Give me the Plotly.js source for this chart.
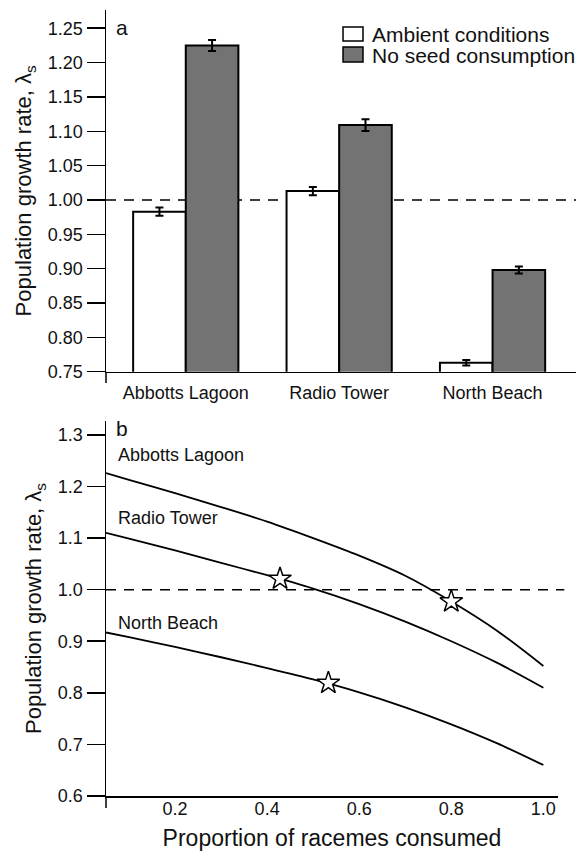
<!DOCTYPE html>
<html>
<head>
<meta charset="utf-8">
<script src="https://cdn.plot.ly/plotly-3.0.1.min.js"></script>
<style>html,body{margin:0;padding:0;background:#fff;}#chart{width:576px;height:851px;}</style>
</head>
<body>
<div id="chart"></div>
<script>
// ---- Panel a data ----
const sites = ['Abbotts Lagoon', 'Radio Tower', 'North Beach'];
const seriesNames = ['Ambient conditions', 'No seed consumption'];
const ambient = [0.983, 1.013, 0.763];
const ambientErr = [0.006, 0.006, 0.004];
const noSeed = [1.225, 1.109, 0.898];
const noSeedErr = [0.008, 0.0085, 0.005];

// ---- Panel b data ----
const consumed = [0.05, 0.1, 0.2, 0.3, 0.4, 0.5, 0.6, 0.7, 0.8, 0.9, 1.0];
const abbottsCurve = [1.226, 1.213, 1.187, 1.160, 1.132, 1.100, 1.066, 1.027, 0.977, 0.920, 0.852];
const radioCurve = [1.110, 1.099, 1.076, 1.052, 1.028, 1.002, 0.972, 0.938, 0.900, 0.858, 0.810];
const northCurve = [0.917, 0.908, 0.889, 0.869, 0.848, 0.826, 0.801, 0.772, 0.739, 0.702, 0.660];
const starX = [0.80, 0.428, 0.533];
const starY = [0.977, 1.021, 0.819];
const curveLabels = ['Abbotts Lagoon', 'Radio Tower', 'North Beach'];
const labelY = [1.261, 1.139, 0.935];
const threshold = 1.0;

const FONT = 'Liberation Sans, Arial, Helvetica, sans-serif';
const colors = ['#ffffff', '#737373'];

const traces = [
  {type: 'bar', name: seriesNames[0], x: sites, y: ambient, showlegend: false,
   error_y: {type: 'data', array: ambientErr, visible: true, color: '#000', thickness: 2, width: 4},
   marker: {color: colors[0], line: {color: '#000', width: 2}}, xaxis: 'x', yaxis: 'y'},
  {type: 'bar', name: seriesNames[1], x: sites, y: noSeed, showlegend: false,
   error_y: {type: 'data', array: noSeedErr, visible: true, color: '#000', thickness: 2, width: 4},
   marker: {color: colors[1], line: {color: '#000', width: 2}}, xaxis: 'x', yaxis: 'y'},
  {type: 'scatter', mode: 'lines', x: consumed, y: abbottsCurve, showlegend: false,
   line: {color: '#000', width: 1.8, shape: 'spline', smoothing: 0.8}, xaxis: 'x2', yaxis: 'y2'},
  {type: 'scatter', mode: 'lines', x: consumed, y: radioCurve, showlegend: false,
   line: {color: '#000', width: 1.8, shape: 'spline', smoothing: 0.8}, xaxis: 'x2', yaxis: 'y2'},
  {type: 'scatter', mode: 'lines', x: consumed, y: northCurve, showlegend: false,
   line: {color: '#000', width: 1.8, shape: 'spline', smoothing: 0.8}, xaxis: 'x2', yaxis: 'y2'},
  {type: 'scatter', mode: 'markers', x: starX, y: starY, showlegend: false,
   marker: {symbol: 'star', size: 17, color: '#ffffff', line: {color: '#000', width: 1.5}},
   xaxis: 'x2', yaxis: 'y2'}
];

const axisCommon = {showline: true, linecolor: '#000', linewidth: 1.5, showgrid: false, zeroline: false,
  tickfont: {family: FONT, size: 18, color: '#111'}, mirror: false};

// legend swatches (paper coords of the plot area)
const legendSwatches = [
  {x0: 0.5043, x1: 0.5468, y0: 0.9606, y1: 0.9784},
  {x0: 0.5043, x1: 0.5468, y0: 0.9338, y1: 0.9529}
];
const legendTextY = [0.9686, 0.9427];

const layout = {
  width: 576, height: 851,
  margin: {l: 106, r: 0, t: 10, b: 55},
  paper_bgcolor: '#fff', plot_bgcolor: 'rgba(0,0,0,0)',
  font: {family: FONT, color: '#111'},
  barmode: 'group', bargap: 0.314, bargroupgap: 0,
  showlegend: false,
  xaxis: Object.assign({}, axisCommon, {domain: [0, 1], anchor: 'y', type: 'category',
    range: [-0.52, 2.544], ticks: '', ticklabelstandoff: 4}),
  yaxis: Object.assign({}, axisCommon, {domain: [0.5398, 1], anchor: 'x', range: [0.75, 1.2765],
    tick0: 0.75, dtick: 0.05, tickformat: '.2f', ticks: 'outside', ticklen: 18, tickwidth: 1.5, tickcolor: '#000',
    title: {text: 'Population growth rate, λ<sub>s</sub>', font: {family: FONT, size: 22, color: '#111'}, standoff: 10}}),
  xaxis2: Object.assign({}, axisCommon, {domain: [0, 0.9617], anchor: 'y2', range: [0.05, 1.0318],
    tickvals: [0.2, 0.4, 0.6, 0.8, 1.0], tickformat: '.1f', ticks: '', ticklabelstandoff: -4,
    title: {text: 'Proportion of racemes consumed', font: {family: FONT, size: 23, color: '#111'}, standoff: 18}}),
  yaxis2: Object.assign({}, axisCommon, {domain: [0, 0.4771], anchor: 'x2', range: [0.6, 1.327],
    tick0: 0.6, dtick: 0.1, tickformat: '.1f', ticks: 'outside', ticklen: 18, tickwidth: 1.5, tickcolor: '#000',
    title: {text: 'Population growth rate, λ<sub>s</sub>', font: {family: FONT, size: 22, color: '#111'}, standoff: 10}}),
  shapes: [
    {type: 'line', xref: 'x domain', yref: 'y', x0: 0, x1: 1, y0: threshold, y1: threshold, layer: 'below',
     line: {color: '#000', width: 1.5, dash: '10px,8px'}},
    {type: 'line', xref: 'paper', yref: 'y2', x0: 0, x1: 0.975, y0: threshold, y1: threshold, layer: 'below',
     line: {color: '#000', width: 1.5, dash: '10px,8px'}},
    {type: 'line', xref: 'paper', yref: 'paper', x0: 0, x1: 0, y0: 0.5398, y1: 0.5255,
     line: {color: '#000', width: 1.5}},
    {type: 'line', xref: 'paper', yref: 'paper', x0: 0, x1: 0, y0: 0, y1: -0.0153,
     line: {color: '#000', width: 1.5}}
  ].concat(legendSwatches.map((s, i) => Object.assign({type: 'rect', xref: 'paper', yref: 'paper',
     fillcolor: colors[i], line: {color: '#000', width: 1.5}}, s))),
  annotations: [
    {text: 'a', xref: 'x domain', yref: 'y domain', x: 0.018, y: 0.953, xanchor: 'left', yanchor: 'middle',
     showarrow: false, font: {family: FONT, size: 21, color: '#111'}},
    {text: 'b', xref: 'x2 domain', yref: 'y2 domain', x: 0.018, y: 0.979, xanchor: 'left', yanchor: 'middle',
     showarrow: false, font: {family: FONT, size: 21, color: '#111'}}
  ].concat(curveLabels.map((t, i) => ({text: t, xref: 'x2', yref: 'y2', x: 0.072, y: labelY[i],
     xanchor: 'left', yanchor: 'middle', showarrow: false, font: {family: FONT, size: 18, color: '#111'}})))
   .concat(seriesNames.map((t, i) => ({text: t, xref: 'paper', yref: 'paper', x: 0.562, y: legendTextY[i],
     xanchor: 'left', yanchor: 'middle', showarrow: false, font: {family: FONT, size: 21, color: '#111'}})))
};

Plotly.newPlot('chart', traces, layout, {displayModeBar: false, staticPlot: true});
</script>
</body>
</html>
